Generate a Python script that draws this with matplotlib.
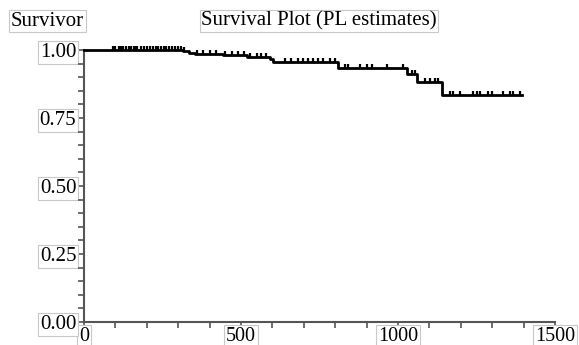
import numpy as np
import matplotlib
matplotlib.use("Agg")
import matplotlib.pyplot as plt
from matplotlib.ticker import MultipleLocator

# Kaplan-Meier (product-limit) step curve: event times and survival after each
event_times = [0, 315, 335, 355, 443, 519, 592, 602, 809, 1029, 1061, 1140]
survival =    [1.0, 0.995, 0.99, 0.986, 0.98, 0.975, 0.968, 0.956, 0.935, 0.911, 0.881, 0.835]
end_time = 1395

# censored observation times
censor_times = [92, 100, 110, 118, 125, 135, 142, 150, 158, 161, 170, 180, 190,
                200, 210, 220, 228, 235, 245, 255, 262, 270, 280, 290, 300, 310,
                320, 360, 380, 400, 420, 450, 470, 490, 510, 530, 550, 565, 580,
                640, 660, 680, 699, 714, 730, 746, 762, 783, 799, 831, 842, 879,
                900, 916, 964, 1017, 1044, 1054, 1086, 1102, 1118, 1128, 1166,
                1176, 1197, 1240, 1251, 1261, 1288, 1299, 1335, 1357, 1367, 1389]

x_ticks = [0, 500, 1000, 1500]
y_ticks = [0.0, 0.25, 0.5, 0.75, 1.0]

plt.rcParams['font.family'] = ['Liberation Serif', 'DejaVu Serif']

fig = plt.figure(figsize=(5.79, 3.45), dpi=100)
ax = fig.add_axes([84/579, 1-322/345, (555-84)/579, (322-50)/345])

t = list(event_times) + [end_time]
s = list(survival) + [survival[-1]]
ax.step(t, s, where='post', color='black', lw=2, clip_on=False, zorder=3)

ct = np.array(censor_times)
idx = np.searchsorted(np.array(event_times), ct, side='right') - 1
cs = np.array(survival)[idx]
ax.plot(ct, cs, linestyle='none', marker=2, markersize=2.6, mew=1.6,
        color='black', clip_on=False, zorder=3)

ax.set_xlim(0, 1500)
ax.set_ylim(0, 1.0)
ax.set_xticks(x_ticks)
ax.set_yticks(y_ticks)
ax.set_xticklabels([str(v) for v in x_ticks])
ax.set_yticklabels([f"{v:.2f}" for v in y_ticks])
ax.xaxis.set_minor_locator(MultipleLocator(100))
ax.yaxis.set_minor_locator(MultipleLocator(0.05))

for sp in ['top', 'right']:
    ax.spines[sp].set_visible(False)
for sp in ['left', 'bottom']:
    ax.spines[sp].set_color('#555555')
    ax.spines[sp].set_linewidth(1.5)

ax.tick_params(which='major', length=5, width=1.2, color='#555555',
               labelsize=15, pad=0.5)
ax.tick_params(which='minor', length=4, width=1.2, color='#555555')
ax.tick_params(axis='x', which='major', length=4, pad=-0.5, labelsize=14.5)

box = dict(boxstyle='square,pad=0.08', facecolor='white', edgecolor='#c8c8c8', lw=0.8)
for lab in ax.get_xticklabels() + ax.get_yticklabels():
    lab.set_bbox(box)

fig.text(11/579, 1-21/345, "Survivor", fontsize=15, ha='left', va='center', bbox=box)
fig.text(319/579, 1-21/345, "Survival Plot (PL estimates)", fontsize=15,
         ha='center', va='center', bbox=box)

fig.savefig("out.png", dpi=100)
